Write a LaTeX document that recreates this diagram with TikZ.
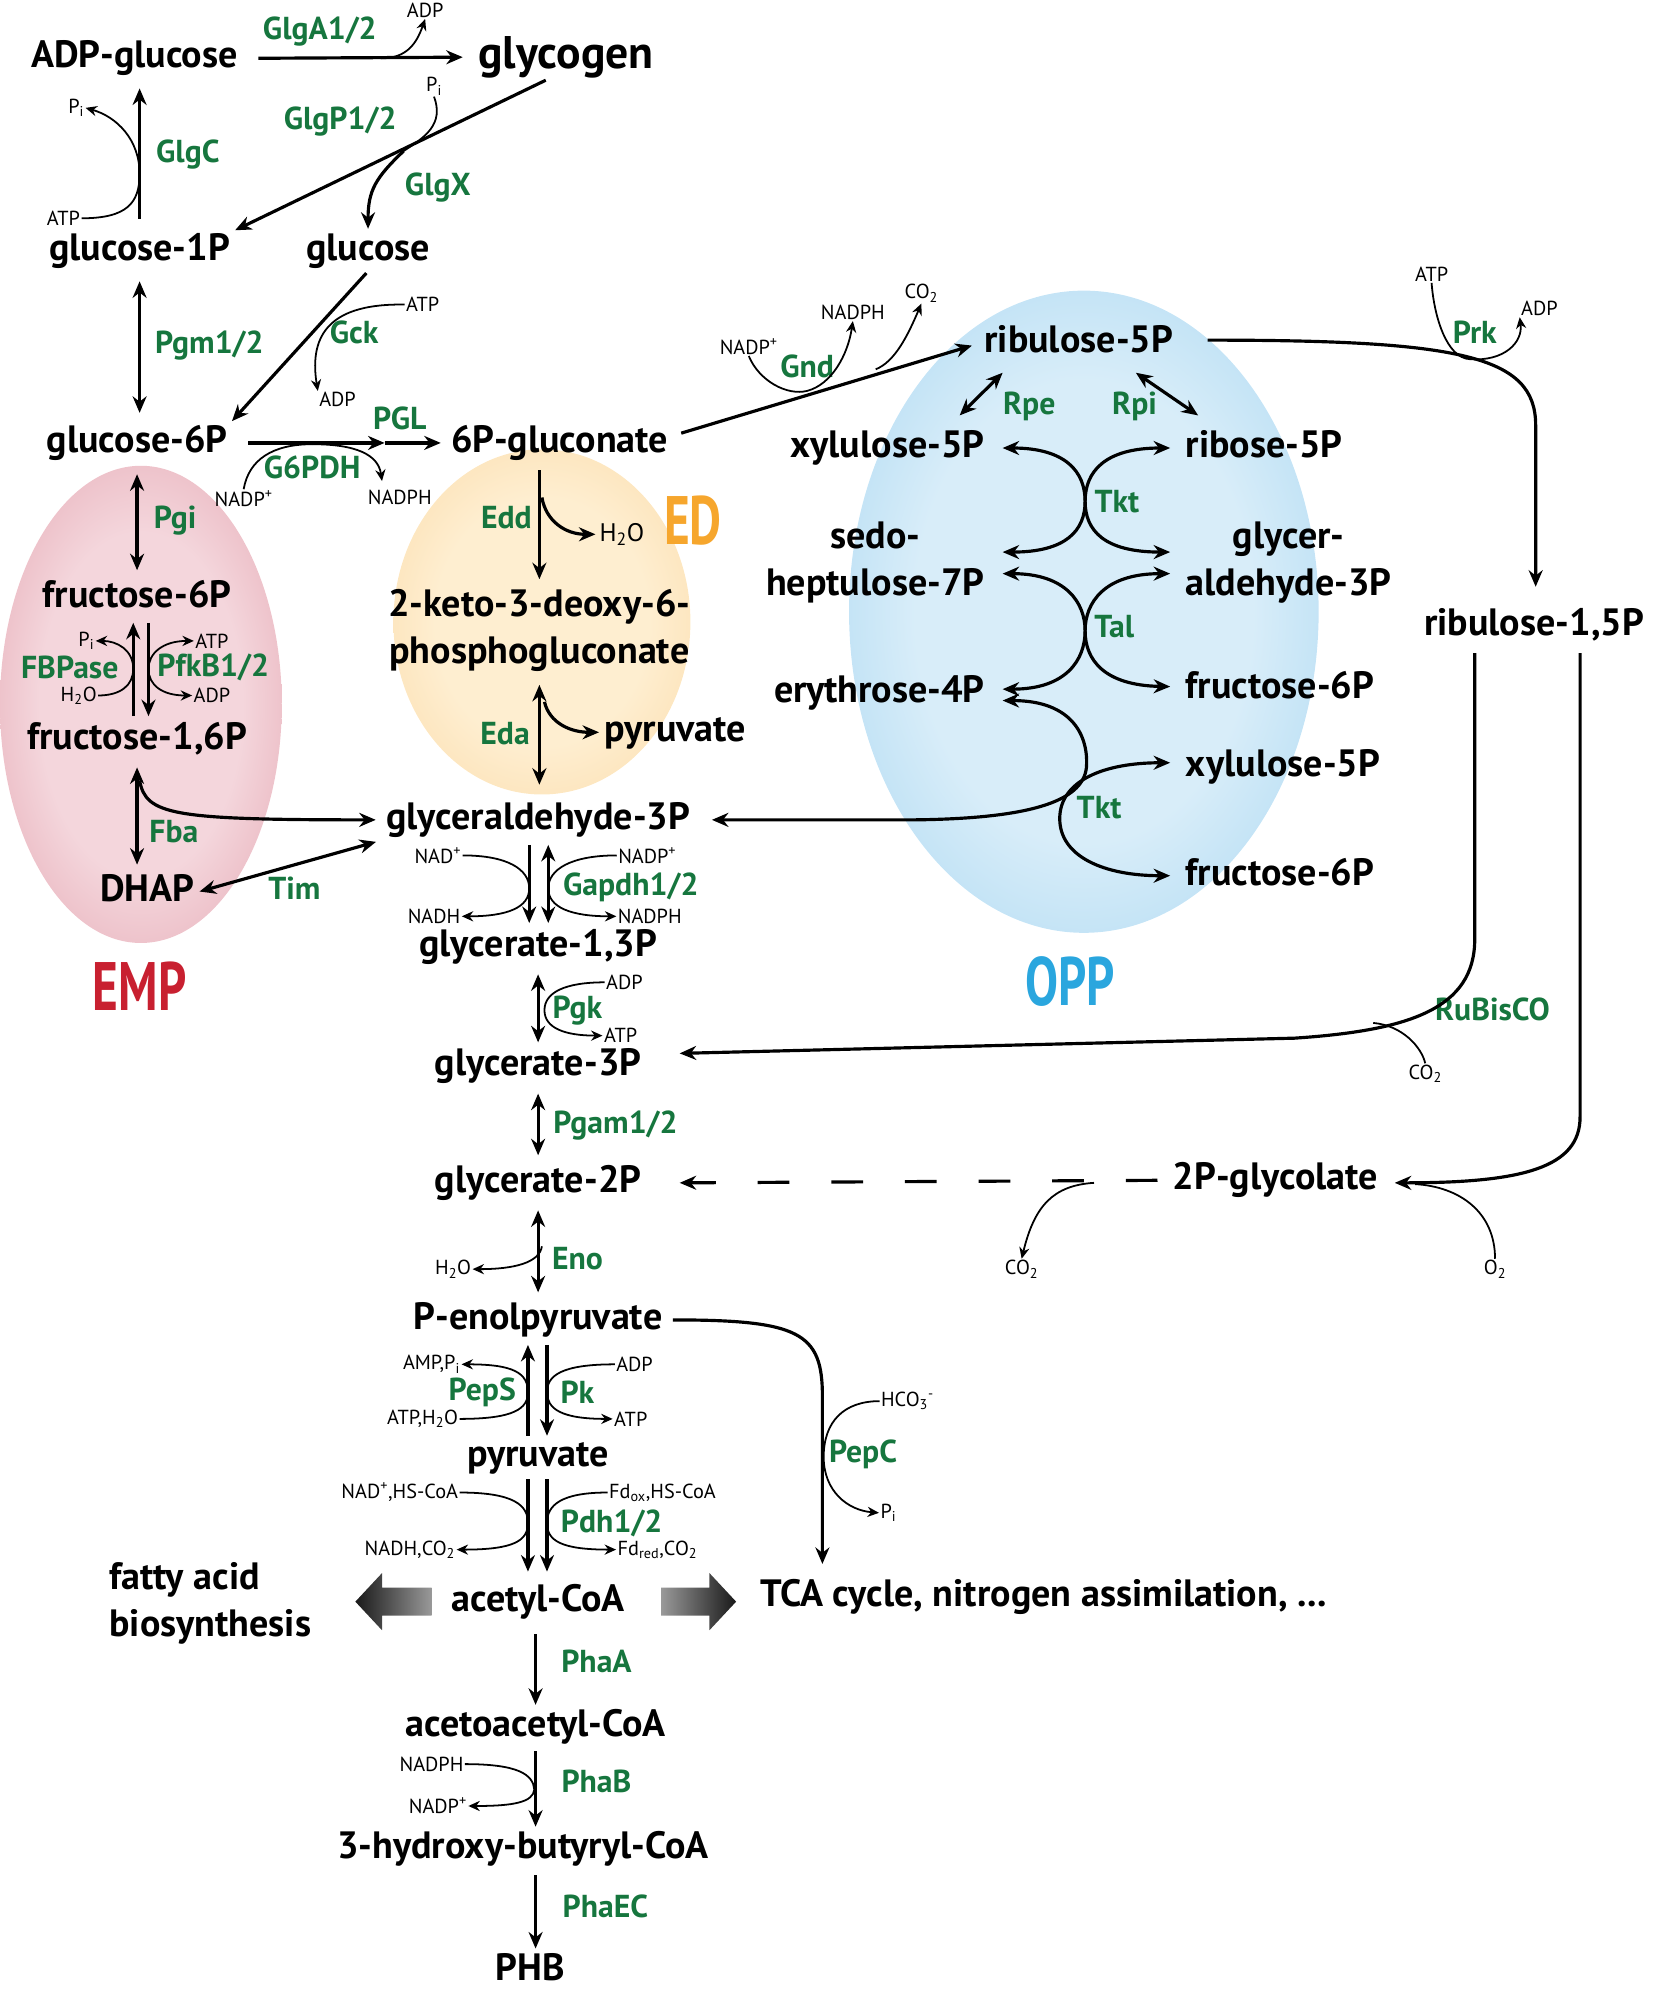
\documentclass[tikz,border=0pt]{standalone}
\usepackage{fontspec}
\setmainfont{PT Sans}
\usepackage{graphicx}
\usetikzlibrary{arrows.meta,calc}

\definecolor{enzgreen}{RGB}{22,118,62}
\definecolor{empred}{RGB}{200,32,48}
\definecolor{edorange}{RGB}{246,166,45}
\definecolor{oppblue}{RGB}{42,166,222}
\definecolor{empin}{RGB}{244,214,220}
\definecolor{empout}{RGB}{216,128,143}
\definecolor{edin}{RGB}{254,238,208}
\definecolor{edout}{RGB}{250,204,138}
\definecolor{oppin}{RGB}{216,237,249}
\definecolor{oppout}{RGB}{128,196,234}
\pgfdeclareradialshading{empshade}{\pgfpoint{0bp}{0bp}}{color(0bp)=(empin); color(18bp)=(empin); color(50bp)=(empout)}
\pgfdeclareradialshading{edshade}{\pgfpoint{0bp}{0bp}}{color(0bp)=(edin); color(18bp)=(edin); color(50bp)=(edout)}
\pgfdeclareradialshading{oppshade}{\pgfpoint{0bp}{0bp}}{color(0bp)=(oppin); color(18bp)=(oppin); color(50bp)=(oppout)}

\begin{document}
\begin{tikzpicture}[x=1pt,y=-1pt,
                    >={Stealth[length=13pt,width=11pt]},
                    met/.style={font=\fontsize{30}{37}\selectfont\bfseries,inner sep=2pt,
                                text height=21pt,text depth=6pt},
                    metb/.style={font=\fontsize{30}{37}\selectfont\bfseries,inner sep=2pt,align=center},
                    enz/.style={font=\fontsize{25}{28}\selectfont\bfseries,text=enzgreen,inner sep=1pt},
                    cof/.style={font=\fontsize{16}{18}\selectfont,inner sep=1pt},
                    pwname/.style={font=\fontsize{54}{56}\selectfont\bfseries},
                    rxn/.style={line width=2.5pt,shorten >=6pt,shorten <=6pt},
                    cofline/.style={line width=1.4pt,>={Stealth[length=9pt,width=8pt]}}]
  \useasboundingbox (0,0) rectangle (1303,1568);

  % pathway areas
  \shade[shading=empshade] (111,555) ellipse [x radius=111,y radius=188];
  \shade[shading=edshade] (427,490) ellipse [x radius=117,y radius=136];
  \shade[shading=oppshade] (854,482) ellipse [x radius=185,y radius=253];
  \node[pwname,text=empred] (emp) at (110,777) {\scalebox{0.72}[1]{EMP}};
  \node[pwname,text=edorange] (ed) at (546,410) {\scalebox{0.72}[1]{ED}};
  \node[pwname,text=oppblue] (opp) at (843,773) {\scalebox{0.72}[1]{OPP}};

  % metabolites
  \node[met] (adpglc) at (106,46) {ADP-glucose};
  \node[met,font=\fontsize{36}{40}\selectfont\bfseries,text height=25pt,text depth=7pt] (glycogen) at (446,45) {glycogen};
  \node[met] (g1p) at (110,198) {glucose-1P};
  \node[met] (glc) at (290,198) {glucose};
  \node[met] (g6p) at (108,349) {glucose-6P};
  \node[met] (pgn) at (441,349) {6P-gluconate};
  \node[met] (f6p) at (108,471) {fructose-6P};
  \node[met] (f16p) at (108,583) {fructose-1,6P};
  \node[met] (dhap) at (116,703) {DHAP};
  \node[metb] (kdpg) at (425,497) {2-keto-3-deoxy-6-\\phosphogluconate};
  \node[met] (pyrED) at (532,577) {pyruvate};
  \node[met] (gap) at (424,646) {glyceraldehyde-3P};
  \node[met] (bpg) at (424,746) {glycerate-1,3P};
  \node[met] (pg3) at (424,840) {glycerate-3P};
  \node[met] (pg2) at (424,932) {glycerate-2P};
  \node[met] (pep) at (424,1040) {P-enolpyruvate};
  \node[met] (pyr) at (424,1148) {pyruvate};
  \node[met] (acoa) at (424,1262) {acetyl-CoA};
  \node[met] (aacoa) at (422,1361) {acetoacetyl-CoA};
  \node[met] (hbcoa) at (412,1457) {3-hydroxy-butyryl-CoA};
  \node[met] (phb) at (418,1553) {PHB};
  \node[metb,align=left,anchor=west] (fab) at (84,1263) {fatty acid\\biosynthesis};
  \node[met,anchor=west] (tca) at (597,1258) {TCA cycle, nitrogen assimilation, ...};
  \node[met] (ru5p) at (850,270) {ribulose-5P};
  \node[met,anchor=east] (xu5p) at (778,353) {xylulose-5P};
  \node[met,anchor=west] (r5p) at (932,353) {ribose-5P};
  \node[metb,anchor=east] (s7p) at (778,443) {sedo-\\heptulose-7P};
  \node[metb,anchor=west] (gapO) at (932,443) {glycer-\\aldehyde-3P};
  \node[met,anchor=east] (e4p) at (778,546) {erythrose-4P};
  \node[met,anchor=west] (f6pO) at (932,543) {fructose-6P};
  \node[met,anchor=west] (xu5pO) at (932,604) {xylulose-5P};
  \node[met,anchor=west] (f6pO2) at (932,690) {fructose-6P};
  \node[met,anchor=west] (rubp) at (1120,493) {ribulose-1,5P};
  \node[met] (glyc) at (1005,930) {2P-glycolate};

  % enzymes
  \node[enz] (glga) at (252,25) {GlgA1/2};
  \node[enz] (glgp) at (268,96) {GlgP1/2};
  \node[enz] (glgc) at (148,122) {GlgC};
  \node[enz] (glgx) at (345,148) {GlgX};
  \node[enz] (pgm) at (165,272) {Pgm1/2};
  \node[enz] (gck) at (279,262) {Gck};
  \node[enz] (pgl) at (315,330) {PGL};
  \node[enz] (g6pdh) at (246,368) {G6PDH};
  \node[enz] (pgi) at (138,410) {Pgi};
  \node[enz] (fbpase) at (55,526) {FBPase};
  \node[enz] (pfkb) at (168,526) {PfkB1/2};
  \node[enz] (fba) at (137,655) {Fba};
  \node[enz] (tim) at (232,700) {Tim};
  \node[enz] (edd) at (399,408) {Edd};
  \node[enz] (eda) at (398,578) {Eda};
  \node[enz] (gapdh) at (497,699) {Gapdh1/2};
  \node[enz] (pgk) at (455,796) {Pgk};
  \node[enz] (pgam) at (485,887) {Pgam1/2};
  \node[enz] (eno) at (455,992) {Eno};
  \node[enz] (peps) at (380,1097) {PepS};
  \node[enz] (pk) at (455,1097) {Pk};
  \node[enz] (pdh) at (482,1200) {Pdh1/2};
  \node[enz] (phaa) at (470,1309) {PhaA};
  \node[enz] (phab) at (470,1404) {PhaB};
  \node[enz] (phaec) at (477,1502) {PhaEC};
  \node[enz] (pepc) at (680,1146) {PepC};
  \node[enz] (gnd) at (636,289) {Gnd};
  \node[enz] (rpe) at (811,320) {Rpe};
  \node[enz] (rpi) at (894,320) {Rpi};
  \node[enz] (tkt) at (880,395) {Tkt};
  \node[enz] (tal) at (878,494) {Tal};
  \node[enz] (tktb) at (866,636) {Tkt};
  \node[enz] (prk) at (1162,262) {Prk};
  \node[enz] (rubisco) at (1176,795) {RuBisCO};

  % cofactors
  \node[cof] (adpA) at (335,8) {ADP};
  \node[cof] (piG) at (342,68) {P\textsubscript{i}};
  \node[cof] (piC) at (60,85) {P\textsubscript{i}};
  \node[cof] (atpC) at (50,172) {ATP};
  \node[cof] (atpG) at (333,240) {ATP};
  \node[cof] (adpG) at (266,315) {ADP};
  \node[cof] (nadpG) at (192,393) {NADP\textsuperscript{+}};
  \node[cof] (nadphG) at (315,392) {NADPH};
  \node[cof] (piF) at (68,505) {P\textsubscript{i}};
  \node[cof] (atpF) at (167,505) {ATP};
  \node[cof] (h2oF) at (62,548) {H\textsubscript{2}O};
  \node[cof] (adpF) at (167,548) {ADP};
  \node[cof,font=\fontsize{20}{22}\selectfont] (h2oE) at (490,421) {H\textsubscript{2}O};
  \node[cof] (nadG) at (345,674) {NAD\textsuperscript{+}};
  \node[cof] (nadhG) at (342,722) {NADH};
  \node[cof] (nadpGa) at (510,674) {NADP\textsuperscript{+}};
  \node[cof] (nadphGa) at (512,722) {NADPH};
  \node[cof] (adpK) at (492,774) {ADP};
  \node[cof] (atpK) at (489,816) {ATP};
  \node[cof] (h2oN) at (357,1000) {H\textsubscript{2}O};
  \node[cof] (amppS) at (340,1075) {AMP,P\textsubscript{i}};
  \node[cof] (atph2oS) at (333,1118) {ATP,H\textsubscript{2}O};
  \node[cof] (adpP) at (500,1075) {ADP};
  \node[cof] (atpP) at (497,1118) {ATP};
  \node[cof] (nadcoa) at (315,1176) {NAD\textsuperscript{+},HS-CoA};
  \node[cof] (nadhco) at (323,1221) {NADH,CO\textsubscript{2}};
  \node[cof] (fdox) at (522,1176) {Fd\textsubscript{ox},HS-CoA};
  \node[cof] (fdred) at (518,1221) {Fd\textsubscript{red},CO\textsubscript{2}};
  \node[cof] (nadphB) at (340,1390) {NADPH};
  \node[cof] (nadpB) at (345,1423) {NADP\textsuperscript{+}};
  \node[cof] (hco3) at (715,1104) {HCO\textsubscript{3}\textsuperscript{-}};
  \node[cof] (piP) at (700,1192) {P\textsubscript{i}};
  \node[cof] (nadpO) at (590,273) {NADP\textsuperscript{+}};
  \node[cof] (nadphO) at (672,246) {NADPH};
  \node[cof] (co2O) at (726,231) {CO\textsubscript{2}};
  \node[cof] (atpR) at (1128,216) {ATP};
  \node[cof] (adpR) at (1213,243) {ADP};
  \node[cof] (co2R) at (1123,846) {CO\textsubscript{2}};
  \node[cof] (co2G) at (805,1000) {CO\textsubscript{2}};
  \node[cof] (o2N) at (1178,1000) {O\textsubscript{2}};

  % touching points of side reactions
  \coordinate (glgaT) at (300,46);
  \coordinate (glgxT) at (318,119);
  \coordinate (glgcT) at (110,137);
  \coordinate (lact) at (303,349);
  \coordinate (g6pdT) at (246,350);
  \coordinate (fbpT) at (105,527);
  \coordinate (pfkT) at (117,527);
  \coordinate (fbaT) at (110,615);
  \coordinate (eddT) at (427,392);
  \coordinate (edaT) at (429,553);
  \coordinate (gapdhL) at (417,700);
  \coordinate (gapdhR) at (432,700);
  \coordinate (pgkT) at (429,796);
  \coordinate (enoT) at (427,982);
  \coordinate (pepsT) at (416,1097);
  \coordinate (pkT) at (431,1097);
  \coordinate (pdhL) at (416,1200);
  \coordinate (pdhR) at (431,1200);
  \coordinate (phabT) at (421,1410);
  \coordinate (pepcC) at (648,1100);
  \coordinate (pepcT) at (649,1148);
  \coordinate (gndT) at (636,308);
  \coordinate (gndT2) at (690,291);
  \coordinate (tktC) at (855,395);
  \coordinate (talC) at (855,497);
  \coordinate (tktC2) at (835,645);
  \coordinate (prkC) at (1210,335);
  \coordinate (prkT) at (1158,283);
  \coordinate (rubC) at (1162,740);
  \coordinate (rubT) at (1082,806);
  \coordinate (oxC) at (1245,880);
  \coordinate (o2T) at (1115,933);
  \coordinate (glyT) at (862,932);

  % glycogen
  \draw[rxn,->,shorten <=14pt,shorten >=10pt] (adpglc.east) -- (glycogen.west);
  \draw[cofline,->] (glgaT) .. controls (320,46) and (328,35) .. (adpA.south);
  \draw[rxn,->,shorten <=0pt,shorten >=2pt] ([xshift=-16pt]glycogen.south) -- (g1p.north east);
  \draw[cofline] (piG.south) .. controls (350,98) and (335,108) .. (glgxT);
  \draw[rxn,->,shorten <=0pt,shorten >=2pt] (glgxT) .. controls (296,140) and (290,150) .. (glc.north);
  \draw[rxn,->,shorten <=10pt,shorten >=8pt] (g1p.north) -- (g1p.north |- adpglc.south);
  \draw[cofline,->] (atpC.east) .. controls (100,172) and (110,160) .. (glgcT)
                    .. controls (110,110) and (92,92) .. (piC.east);
  \draw[rxn,<->,shorten <=8pt,shorten >=8pt] (g1p.south) -- (g1p.south |- g6p.north);
  \draw[rxn,->,shorten <=2pt,shorten >=2pt] (glc.south) -- (g6p.north east);
  \draw[cofline,->] (atpG.west) .. controls (262,239) and (243,262) .. (adpG.north west);

  % G6PDH, PGL
  \draw[rxn,->,shorten <=14pt,shorten >=0pt] (g6p.east) -- (lact);
  \draw[rxn,->,shorten <=0pt] (lact) -- (pgn.west);
  \draw[cofline] (nadpG.north) .. controls (196,362) and (215,350) .. (g6pdT);
  \draw[cofline,->] (g6pdT) .. controls (280,350) and (298,358) .. ($(nadphG.north)+(-14,-6)$);

  % EMP
  \draw[rxn,<->,shorten <=9pt] (g6p.south) -- (g6p.south |- f6p.north);
  \draw[rxn,->,shorten <=3pt,shorten >=4pt] ([xshift=-3pt]f16p.north) -- ([xshift=-3pt]f6p.south);
  \draw[rxn,->,shorten <=4pt,shorten >=3pt] ([xshift=9pt]f6p.south) -- ([xshift=9pt]f16p.north);
  \draw[cofline,->] (h2oF.east) .. controls (95,548) and (105,540) .. (fbpT)
                    .. controls (105,512) and (92,505) .. (piF.east);
  \draw[cofline,<->] (atpF.west) .. controls (128,505) and (117,515) .. (pfkT)
                     .. controls (117,540) and (128,548) .. (adpF.west);
  \draw[rxn,<->] (f16p.south) -- (f16p.south |- dhap.north);
  \draw[rxn,->,shorten <=0pt] (fbaT) .. controls (115,642) and (135,646) .. (gap.west);
  \draw[rxn,<->,shorten <=2pt] (dhap.east) -- (gap.south west);

  % ED
  \draw[rxn,->] (kdpg.north |- pgn.south) -- (kdpg.north);
  \draw[rxn,->,shorten <=0pt,shorten >=2pt] (eddT) .. controls (430,410) and (445,421) .. (h2oE.west);
  \draw[rxn,<->,shorten <=8pt,shorten >=12pt] (kdpg.south) -- (kdpg.south |- gap.north);
  \draw[rxn,->,shorten <=0pt,shorten >=2pt] (edaT) .. controls (433,570) and (450,577) .. (pyrED.west);

  % lower glycolysis
  \draw[rxn,->,shorten <=4pt,shorten >=3pt] ([xshift=-7pt]gap.south) -- ([xshift=-7pt]bpg.north);
  \draw[rxn,<->,shorten <=4pt,shorten >=3pt] ([xshift=8pt]gap.south) -- ([xshift=8pt]bpg.north);
  \draw[cofline,->] (nadG.east) .. controls (400,674) and (417,685) .. (gapdhL)
                    .. controls (417,715) and (400,722) .. (nadhG.east);
  \draw[cofline,->] (nadpGa.west) .. controls (450,674) and (432,685) .. (gapdhR)
                    .. controls (432,715) and (450,722) .. (nadphGa.west);
  \draw[rxn,<->,shorten >=3pt] (bpg.south) -- (bpg.south |- pg3.north);
  \draw[cofline,->] (adpK.west) .. controls (445,774) and (429,782) .. (pgkT)
                    .. controls (429,810) and (445,816) .. (atpK.west);
  \draw[rxn,<->] (pg3.south) -- (pg3.south |- pg2.north);
  \draw[rxn,<->] (pg2.south) -- (pg2.south |- pep.north);
  \draw[cofline,->] (enoT) .. controls (425,995) and (405,1000) .. (h2oN.east);
  \draw[rxn,->,shorten <=1pt,shorten >=4pt] ([xshift=-8pt]pyr.north) -- ([xshift=-8pt]pep.south);
  \draw[rxn,->,shorten <=4pt,shorten >=1pt] ([xshift=7pt]pep.south) -- ([xshift=7pt]pyr.north);
  \draw[cofline,->] (atph2oS.east) .. controls (405,1118) and (416,1110) .. (pepsT)
                    .. controls (416,1082) and (405,1075) .. (amppS.east);
  \draw[cofline,->] (adpP.west) .. controls (442,1075) and (431,1084) .. (pkT)
                    .. controls (431,1110) and (442,1118) .. (atpP.west);
  \draw[rxn,->,shorten <=2pt,shorten >=8pt] ([xshift=-8pt]pyr.south) -- ([xshift=-8pt]acoa.north);
  \draw[rxn,->,shorten <=2pt,shorten >=8pt] ([xshift=7pt]pyr.south) -- ([xshift=7pt]acoa.north);
  \draw[cofline,->] (nadcoa.east) .. controls (405,1176) and (416,1186) .. (pdhL)
                    .. controls (416,1214) and (405,1221) .. (nadhco.east);
  \draw[cofline,->] (fdox.west) .. controls (442,1176) and (431,1186) .. (pdhR)
                    .. controls (431,1214) and (442,1221) .. (fdred.west);

  % acetyl-CoA outlets
  \shade[left color=black!90,right color=black!40] (280,1262) -- (301,1239.5) -- (301,1251) -- (340,1251)
        -- (340,1273) -- (301,1273) -- (301,1284.5) -- cycle;
  \shade[left color=black!40,right color=black!90] (521,1251) -- (559,1251) -- (559,1239.5) -- (580,1262)
        -- (559,1284.5) -- (559,1273) -- (521,1273) -- cycle;

  % PHB
  \draw[rxn,->,shorten <=10pt,shorten >=2pt] (aacoa.north |- acoa.south) -- (aacoa.north);
  \draw[rxn,->,shorten <=3pt,shorten >=2pt] (aacoa.south) -- (aacoa.south |- hbcoa.north);
  \draw[cofline,->] (nadphB.east) .. controls (408,1390) and (420,1398) .. (phabT)
                    .. controls (420,1420) and (405,1423) .. (nadpB.east);
  \draw[rxn,->,shorten <=5pt,shorten >=2pt] (aacoa.south |- hbcoa.south) -- (aacoa.south |- phb.north);

  % PepC
  \draw[rxn,->,shorten >=10pt] (pep.east) .. controls (630,1040) and (648,1050) .. (pepcC) -- (pepcC |- tca.north);
  \draw[cofline,->] (hco3.west) .. controls (665,1104) and (649,1120) .. (pepcT)
                    .. controls (649,1175) and (668,1190) .. (piP.west);

  % OPP
  \draw[rxn,->,shorten <=0pt,shorten >=8pt] ($(pgn.north east)+(8,8)$) -- (ru5p.west);
  \draw[cofline,->] (nadpO.south) .. controls (598,300) and (620,312) .. (gndT)
                    .. controls (655,303) and (668,280) .. (nadphO.south);
  \draw[cofline,->] (gndT2) .. controls (705,285) and (715,265) .. (co2O.south);
  \draw[rxn,<->,shorten <=0pt,shorten >=0pt] ($(ru5p.south)+(-60,8)$) -- ($(xu5p.north)+(57,-10)$);
  \draw[rxn,<->,shorten <=0pt,shorten >=0pt] ($(ru5p.south)+(45,8)$) -- ($(r5p.north)+(-52,-10)$);
  \draw[rxn,<->,shorten <=0pt,shorten >=0pt] ($(xu5p.east)+(12,0)$) .. controls (840,353) and (855,372) .. (tktC)
        .. controls (855,418) and (840,435) .. ($(s7p.east)+(12,-8)$);
  \draw[rxn,<->,shorten <=0pt,shorten >=0pt] ($(r5p.west)+(-10,0)$) .. controls (870,353) and (855,372) .. (tktC)
        .. controls (855,418) and (870,435) .. ($(gapO.west)+(-10,-8)$);
  \draw[rxn,<->,shorten <=0pt,shorten >=0pt] ($(s7p.east)+(12,9)$) .. controls (840,452) and (855,475) .. (talC)
        .. controls (855,520) and (840,543) .. ($(e4p.east)+(12,-3)$);
  \draw[rxn,<->,shorten <=0pt,shorten >=0pt] ($(gapO.west)+(-10,9)$) .. controls (870,452) and (855,475) .. (talC)
        .. controls (855,520) and (870,540) .. ($(f6pO.west)+(-10,-2)$);
  \draw[rxn,<->,shorten <=0pt,shorten >=0pt] ($(e4p.east)+(12,6)$) .. controls (845,552) and (858,580) .. (856,605)
        .. controls (853,632) and (810,645) .. (720,646) -- ($(gap.east)+(15,0)$);
  \draw[rxn,<->,shorten <=0pt,shorten >=0pt] ($(xu5pO.west)+(-10,-3)$) .. controls (870,601) and (835,615) .. (tktC2)
        .. controls (835,675) and (870,690) .. ($(f6pO2.west)+(-10,0)$);

  % Calvin side
  \draw[rxn,->,shorten <=0pt,shorten >=15pt] ($(ru5p.east)+(25,-2)$) .. controls (1150,268) and (1210,280) .. (prkC)
        -- (prkC |- rubp.north);
  \draw[cofline,->] (atpR.south) .. controls (1130,250) and (1140,282) .. (prkT)
                    .. controls (1185,285) and (1200,270) .. (adpR.south west);
  \draw[rxn,->,shorten <=6pt,shorten >=0pt] ($(rubp.south west)+(42,0)$) -- (rubC) .. controls (1162,795) and (1110,812) .. (1020,818)
        -- ($(pg3.east)+(28,-10)$);
  \draw[cofline] (co2R.north) .. controls (1120,825) and (1105,808) .. (rubT);
  \draw[rxn,->,shorten <=6pt,shorten >=0pt] ($(rubp.south west)+(125,0)$) -- (oxC) .. controls (1245,920) and (1200,932) .. ($(glyc.east)+(11,2)$);
  \draw[cofline] (o2N.north) .. controls (1178,955) and (1150,935) .. (o2T);
  \draw[rxn,->,dash pattern=on 25pt off 33pt,shorten <=0pt,shorten >=0pt] ($(glyc.west)+(-10,0)$) -- ($(pg2.east)+(28,0)$);
  \draw[cofline,->] (glyT) .. controls (830,934) and (815,950) .. (co2G.north);
\end{tikzpicture}
\end{document}
